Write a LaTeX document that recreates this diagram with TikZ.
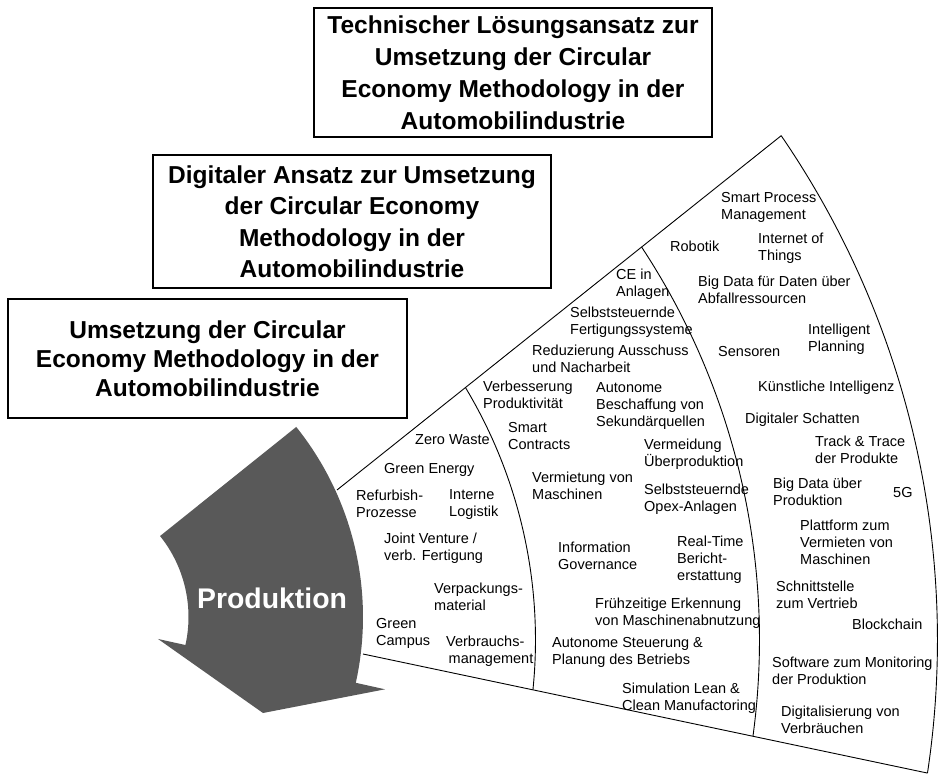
\documentclass[tikz,border=0pt]{standalone}
\usepackage{fontspec}
\setmainfont{Liberation Sans}
\usetikzlibrary{calc}
\definecolor{arrowgray}{HTML}{595959}
\newcommand\itm[4]{\node[item] (#1) at (#2,{-(#3)+7.4}) {#4};}
\begin{document}
\begin{tikzpicture}[x=1pt,y=1pt,
  titlebox/.style={draw, line width=1.6pt, align=center, inner sep=0pt,
    minimum width=398pt},
  titlefont/.style={font=\bfseries\fontsize{24.5}{#1}\selectfont},
  item/.style={anchor=north west, inner sep=0pt, align=left,
    font=\fontsize{14.5}{17}\selectfont, execute at begin node=\strut},
  fanline/.style={line width=0.9pt},
  arrowfill/.style={fill=arrowgray}]
\useasboundingbox (0,0) rectangle (939,-778);

% title boxes
\node[titlebox, titlefont=32, minimum height=129pt] (box1) at (513,-72.5)
  {Technischer Lösungsansatz zur\\Umsetzung der Circular\\Economy Methodology in der\\Automobilindustrie};
\node[titlebox, titlefont=31.5, minimum height=133pt] (box2) at (352,-221.5)
  {Digitaler Ansatz zur Umsetzung\\der Circular Economy\\Methodology in der\\Automobilindustrie};
\node[titlebox, titlefont=29, minimum height=119pt, minimum width=399pt] (box3) at (207.5,-358.5)
  {Umsetzung der Circular\\Economy Methodology in der\\Automobilindustrie};

% centres
\coordinate (D) at (45.5,-640);
\coordinate (A) at (59,-617);

% curved arrow
\fill[arrowfill] ($(A)+(38.7:129.5)$) -- ($(A)+(38.7:304)$)
  arc[start angle=38.7, end angle=-12.5, radius=304]
  -- ($(A)+(-12.5:334)$) -- (263,-713) -- ($(A)+(-12.5:101.4)$)
  -- ($(A)+(-12.5:129.5)$)
  arc[start angle=-12.5, end angle=38.7, radius=129.5] -- cycle;
\node[font=\bfseries\fontsize{28.4}{34}\selectfont, text=white] (prod) at (272,-598) {Produktion};

% fan
\coordinate (t0) at (337,-490);
\coordinate (t3) at ($(D)+(34.43:892)$);
\coordinate (b0) at (363,-654);
\coordinate (b3) at ($(D)+(-8.58:892)$);
\draw[fanline] (t0) -- (t3);
\draw[fanline] (b0) -- (b3);
\draw[fanline] ($(D)+(31.0:490)$) arc[start angle=31.0, end angle=-5.84, radius=490];
\draw[fanline] ($(D)+(33.4:714)$) arc[start angle=33.4, end angle=-7.75, radius=714];
\draw[fanline] (t3) arc[start angle=34.43, end angle=-8.58, radius=892];

% items
\itm{smp}{721}{200}{Smart Process\\Management}
\itm{rob}{670}{247}{Robotik}
\itm{iot}{758}{240}{Internet of\\Things}
\itm{cea}{616}{276}{CE in\\Anlagen}
\itm{bdf}{698}{283}{Big Data für Daten über\\Abfallressourcen}
\itm{sfs}{570}{314}{Selbststeuernde\\Fertigungssysteme}
\itm{ip}{808}{331}{Intelligent\\Planning}
\itm{sen}{718}{352}{Sensoren}
\itm{red}{532}{352}{Reduzierung Ausschuss\\und Nacharbeit}
\itm{vp}{483}{388}{Verbesserung\\Produktivität}
\itm{abs}{596}{390}{Autonome\\Beschaffung von\\Sekundärquellen}
\itm{ki}{758}{387}{Künstliche Intelligenz}
\itm{ds}{745}{419}{Digitaler Schatten}
\itm{zw}{415}{440}{Zero Waste}
\itm{sc}{508}{430}{Smart\\Contracts}
\itm{vu}{644}{446}{Vermeidung\\Überproduktion}
\itm{tt}{815}{443}{Track \& Trace\\der Produkte}
\itm{ge}{384}{469}{Green Energy}
\itm{vm}{532}{479}{Vermietung von\\Maschinen}
\itm{so}{644}{491}{Selbststeuernde\\Opex-Anlagen}
\itm{bdp}{773}{485}{Big Data über\\Produktion}
\itm{fg}{893}{493}{5G}
\itm{rp}{356}{497}{Refurbish-\\Prozesse}
\itm{il}{449}{497}{Interne\\Logistik}
\itm{jv}{384}{540}{Joint Venture /\\verb. Fertigung}
\itm{ig}{558}{549}{Information\\Governance}
\itm{rt}{677}{543}{Real-Time\\Bericht-\\erstattung}
\itm{pv}{800}{527}{Plattform zum\\Vermieten von\\Maschinen}
\itm{vpm}{434}{590}{Verpackungs-\\material}
\itm{sv}{776}{588}{Schnittstelle\\zum Vertrieb}
\itm{fe}{595}{605}{Frühzeitige Erkennung\\von Maschinenabnutzung}
\itm{bc}{852}{625}{Blockchain}
\itm{gc}{376}{626}{Green\\Campus}
\itm{vbm}{446}{643}{Verbrauchs-\\\hspace*{2.5pt}management}
\itm{asp}{552}{645}{Autonome Steuerung \&\\Planung des Betriebs}
\itm{smon}{772}{664}{Software zum Monitoring\\der Produktion}
\itm{sim}{622}{690}{Simulation Lean \&\\Clean Manufactoring}
\itm{dv}{781}{713}{Digitalisierung von\\Verbräuchen}
\end{tikzpicture}
\end{document}
